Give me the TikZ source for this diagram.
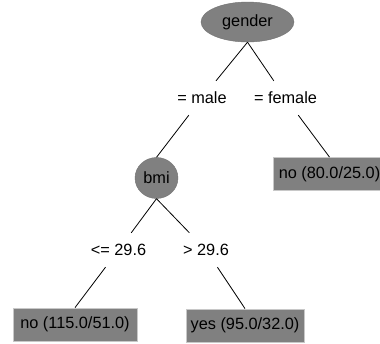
\documentclass[tikz,border=0pt]{standalone}
\usepackage{fontspec}
\setmainfont{Liberation Sans}
\usetikzlibrary{shapes.geometric}
\definecolor{nodegray}{RGB}{128,128,128}
\definecolor{rimgray}{RGB}{200,200,200}
\begin{document}
\begin{tikzpicture}[x=1pt,y=-1pt,
  every node/.style={font=\fontsize{16.3}{19}\selectfont, text=black},
  inner/.style={ellipse, fill=nodegray, draw=nodegray!90!black, line width=0.4pt, inner sep=0pt},
  leaf/.style={rectangle, fill=nodegray, draw=rimgray, line width=0.8pt, minimum height=33pt, inner sep=0pt},
  lbl/.style={rectangle, inner sep=0pt, text height=11.5pt, text depth=0pt, minimum height=34pt},
  edge/.style={draw=black, line width=0.8pt}]
\useasboundingbox (0,0) rectangle (380,343);
\clip (0,0) rectangle (380,343);
\fill[white] (0,0) rectangle (380,343);
% nodes
\node[inner, minimum width=93pt, minimum height=40pt] (gender) at (247.5,22) {gender};
\node[lbl] (male) at (202,98) {= male};
\node[lbl] (female) at (285.5,98) {= female};
\node[leaf, minimum width=113pt] (leafF) at (329.5,174) {no (80.0/25.0)};
\node[inner, minimum width=43pt, minimum height=41pt] (bmi) at (156.5,178) {bmi};
\node[lbl] (le) at (118.5,250) {<= 29.6};
\node[lbl] (gt) at (206,250) {> 29.6};
\node[leaf, minimum width=124pt] (leafL) at (75,324.5) {no (115.0/51.0)};
\node[leaf, minimum width=118pt] (leafR) at (245,325.5) {yes (95.0/32.0)};
% connectors
\draw[edge] (gender.south) -- (male);
\draw[edge] (gender.south) -- (female);
\draw[edge] (male) -- (bmi.north);
\draw[edge] (female) -- (leafF.north);
\draw[edge] (bmi.south) -- (le);
\draw[edge] (bmi.south) -- (gt);
\draw[edge] (le) -- (leafL.north);
\draw[edge] (gt) -- (leafR.north);
\end{tikzpicture}
\end{document}
